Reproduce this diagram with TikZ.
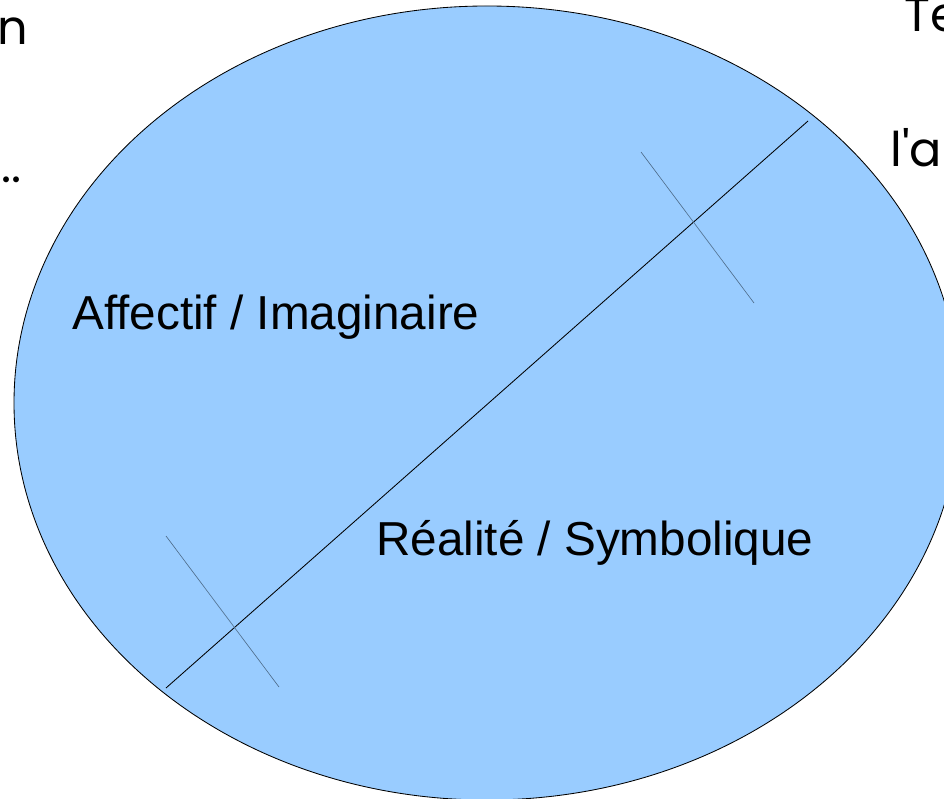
\documentclass[tikz,border=0pt]{standalone}
\usepackage{fontspec}
\setmainfont{Liberation Sans}
\newfontfamily\handfont{Poppins}
\usetikzlibrary{positioning}
\definecolor{ovalblue}{HTML}{99CCFF}
\definecolor{tickgray}{RGB}{80,110,140}

\begin{document}
\begin{tikzpicture}[
    x=0.025cm, y=-0.025cm,
    oval/.style={draw=black, line width=0.6pt, fill=ovalblue},
    lbl/.style={font=\fontsize{33.9}{40}\selectfont, inner sep=0pt, anchor=base west},
    side/.style={font=\handfont\fontsize{34}{40}\selectfont, inner sep=0pt,
                 anchor=base west},
    axis/.style={draw=black, line width=0.6pt},
    tick/.style={draw=tickgray, line width=0.45pt},
  ]
  \useasboundingbox (0,0) rectangle (944,799);
  \clip (0,0) rectangle (944,799);

  % Text of the slide, cut by the page edge
  \node[side] (lineN)  at (-3,45)   {n};
  \node[side] (lineDots) at (1,183) {..};
  \node[side] (lineTe) at (904,32)  {Te};
  \node[side] (lineLa) at (890,167) {l'a};

  % The oval
  \draw[oval] (487,403) ellipse [x radius=473, y radius=397];

  % Dividing line
  \coordinate (axisLow)  at (166,688);
  \coordinate (axisHigh) at (808,121);
  \draw[axis] (axisLow) -- (axisHigh);

  % Tick marks across the line
  \coordinate (tickHighA) at (641,152);
  \coordinate (tickHighB) at (754,303);
  \coordinate (tickLowA)  at (166,536);
  \coordinate (tickLowB)  at (279,687);
  \draw[tick] (tickHighA) -- (tickHighB);
  \draw[tick] (tickLowA) -- (tickLowB);

  % The two halves
  \node[lbl] (affect)  at (72,330)  {Affectif / Imaginaire};
  \node[lbl] (reality) at (376,555) {Réalité / Symbolique};
\end{tikzpicture}
\end{document}
